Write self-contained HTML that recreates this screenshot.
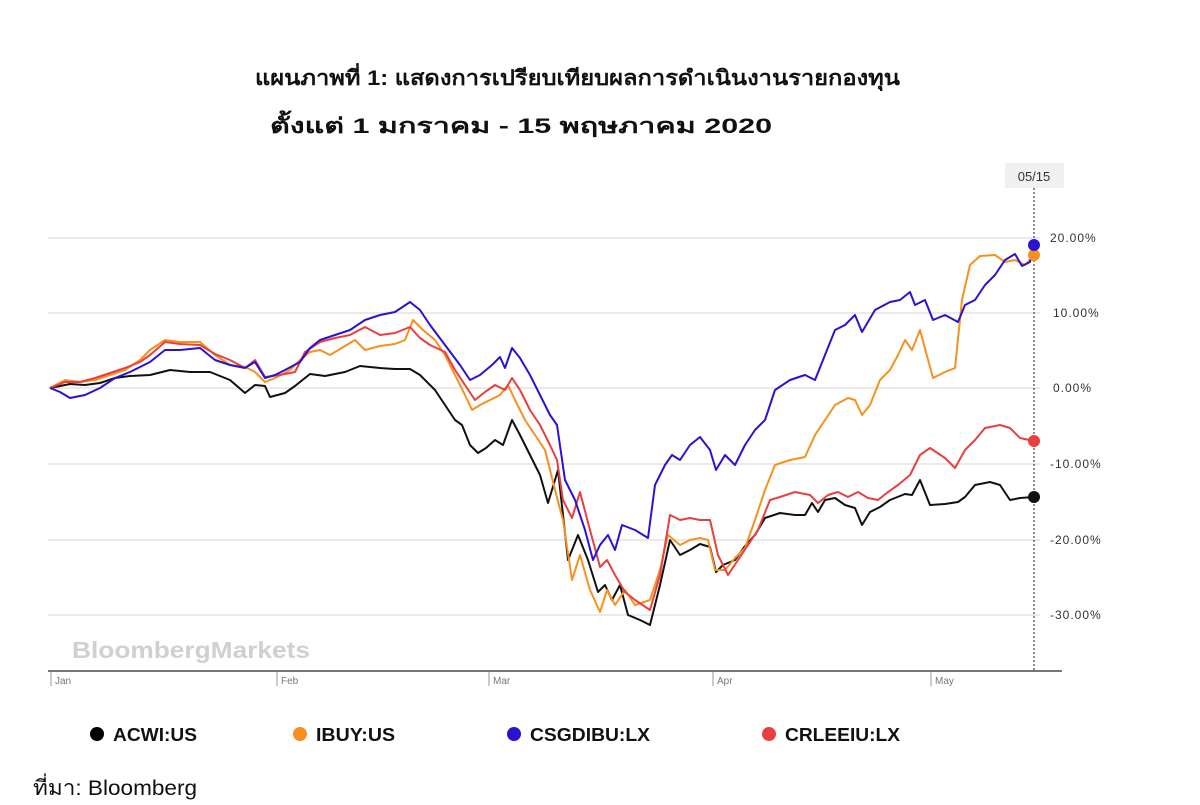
<!DOCTYPE html>
<html><head><meta charset="utf-8"><style>
body{margin:0;background:#fff;width:1200px;height:800px;overflow:hidden;font-family:"Liberation Sans",sans-serif}
</style></head><body>
<svg width="1200" height="800" xmlns="http://www.w3.org/2000/svg" font-family="Liberation Sans, DejaVu Sans, sans-serif">
<text x="255" y="85" font-size="21" font-weight="bold" fill="#111" textLength="645" lengthAdjust="spacingAndGlyphs">แผนภาพที่ 1: แสดงการเปรียบเทียบผลการดำเนินงานรายกองทุน</text>
<text x="270" y="133" font-size="21" font-weight="bold" fill="#111" textLength="502" lengthAdjust="spacingAndGlyphs">ตั้งแต่ 1 มกราคม - 15 พฤษภาคม 2020</text>
<g stroke="#e4e4e4" stroke-width="1.5">
<line x1="48" y1="238" x2="1040" y2="238"/><line x1="48" y1="313" x2="1040" y2="313"/><line x1="48" y1="388" x2="1040" y2="388"/><line x1="48" y1="464" x2="1040" y2="464"/><line x1="48" y1="540" x2="1040" y2="540"/><line x1="48" y1="615" x2="1040" y2="615"/>
</g>
<g font-size="12" fill="#333" letter-spacing="1">
<text x="1050" y="242">20.00%</text><text x="1053" y="317">10.00%</text><text x="1053" y="392">0.00%</text><text x="1050" y="468">-10.00%</text><text x="1050" y="544">-20.00%</text><text x="1050" y="619">-30.00%</text>
</g>
<text x="72" y="658" font-size="23" font-weight="bold" fill="#d0d0d0" textLength="238" lengthAdjust="spacingAndGlyphs">BloombergMarkets</text>
<line x1="48" y1="671" x2="1062" y2="671" stroke="#777" stroke-width="2"/>
<g stroke="#999" stroke-width="1"><line x1="51" y1="672" x2="51" y2="686"/><line x1="277" y1="672" x2="277" y2="686"/><line x1="489" y1="672" x2="489" y2="686"/><line x1="713" y1="672" x2="713" y2="686"/><line x1="931" y1="672" x2="931" y2="686"/></g>
<g font-size="10" fill="#777"><text x="55" y="684">Jan</text><text x="281" y="684">Feb</text><text x="493" y="684">Mar</text><text x="717" y="684">Apr</text><text x="935" y="684">May</text></g>
<line x1="1034" y1="188" x2="1034" y2="670" stroke="#666" stroke-width="1.5" stroke-dasharray="2,2"/>
<rect x="1005" y="163" width="59" height="25" fill="#f0f0f0"/>
<text x="1034" y="181" text-anchor="middle" font-size="13" fill="#333">05/15</text>
<g fill="none" stroke-width="2" stroke-linejoin="round">
<polyline stroke="#111" points="50,388 60,386 70,384 85,385 100,383 115,378 130,376 150,375 170,370 190,372 210,372 230,380 245,393 255,385 265,386 270,397 285,393 295,386 310,374 325,376 345,372 360,366 380,368 395,369 410,369 420,375 435,390 445,405 455,420 462,425 470,445 478,453 486,448 495,440 503,445 512,420 520,435 530,455 540,475 548,503 558,470 568,560 578,535 588,560 598,592 605,585 612,600 620,585 628,615 640,620 650,625 660,585 670,540 680,555 690,550 700,544 710,547 716,572 723,565 735,560 745,546 755,535 765,518 780,513 795,515 805,515 812,503 818,512 825,500 835,498 845,505 855,508 862,525 870,512 880,507 890,500 905,494 912,495 920,480 930,505 945,504 958,502 965,497 975,485 990,482 1000,485 1010,500 1020,498 1034,497"/>
<polyline stroke="#f7901e" points="50,388 65,380 80,382 95,380 110,375 125,370 140,360 150,350 165,340 180,342 200,342 215,355 230,365 245,367 255,372 265,382 275,378 290,370 300,360 310,352 320,350 330,355 345,346 355,340 365,350 380,346 395,344 405,340 413,320 423,330 435,340 445,355 455,375 465,395 472,410 480,405 490,400 500,395 508,385 515,400 525,420 535,435 545,450 555,490 563,520 572,580 580,555 590,590 600,612 607,590 615,605 625,590 635,605 650,600 660,570 668,535 680,545 690,540 700,538 708,540 715,570 725,570 735,558 745,548 755,520 765,490 775,465 790,460 805,457 815,435 825,420 835,405 848,398 855,400 862,415 870,405 880,380 890,370 898,355 905,340 912,350 920,330 933,378 945,372 955,368 962,300 970,265 980,256 995,255 1005,262 1015,260 1025,265 1034,255"/>
<polyline stroke="#e84040" points="50,388 65,382 80,382 95,378 110,373 125,368 140,362 150,355 165,342 180,344 200,345 215,354 230,360 245,368 255,360 265,377 280,375 295,372 305,352 320,342 335,338 350,335 365,327 380,335 395,333 410,327 420,338 430,345 445,352 455,370 465,385 475,400 485,392 495,385 505,390 512,378 520,390 530,410 540,425 550,445 557,460 563,500 572,518 580,492 590,530 600,567 607,560 615,575 625,592 635,600 650,610 660,575 670,515 680,520 690,518 700,520 710,520 718,555 728,575 738,560 748,545 758,530 770,500 780,497 795,492 810,495 818,503 828,495 838,492 848,497 858,492 868,498 878,500 888,492 898,485 910,475 920,455 930,448 945,458 955,468 965,450 975,440 985,428 1000,425 1010,428 1020,438 1034,441"/>
<polyline stroke="#2a13d0" points="50,388 60,392 70,398 85,395 100,388 115,378 130,372 150,362 165,350 180,350 200,348 215,360 230,365 245,368 255,362 265,378 275,375 285,370 300,362 310,348 320,340 335,335 350,330 365,320 380,315 395,312 410,302 420,310 430,325 445,345 460,365 470,380 480,375 492,365 500,357 505,368 512,348 520,358 530,375 540,395 550,415 557,425 565,480 575,500 585,530 593,560 600,545 608,535 615,550 622,525 635,530 648,538 655,485 665,465 672,455 680,460 690,445 700,437 710,450 716,470 725,455 735,465 745,445 755,430 765,420 775,390 790,380 805,375 815,380 825,355 835,330 845,325 855,315 862,332 875,310 890,302 900,300 910,292 915,305 925,300 933,320 945,315 958,322 965,305 975,300 985,285 995,275 1005,260 1015,254 1022,266 1030,262 1034,245"/>
</g>
<circle cx="1034" cy="497" r="6" fill="#111"/>
<circle cx="1034" cy="441" r="6" fill="#e84040"/>
<circle cx="1034" cy="255" r="6" fill="#f7901e"/>
<circle cx="1034" cy="245" r="6" fill="#2a13d0"/>
<g font-size="18" font-weight="bold" fill="#111">
<circle cx="97" cy="734" r="7" fill="#000"/><text x="113" y="741" textLength="84" lengthAdjust="spacingAndGlyphs">ACWI:US</text>
<circle cx="300" cy="734" r="7" fill="#f7901e"/><text x="316" y="741" textLength="79" lengthAdjust="spacingAndGlyphs">IBUY:US</text>
<circle cx="514" cy="734" r="7" fill="#2a13d0"/><text x="530" y="741" textLength="120" lengthAdjust="spacingAndGlyphs">CSGDIBU:LX</text>
<circle cx="769" cy="734" r="7" fill="#e84040"/><text x="785" y="741" textLength="115" lengthAdjust="spacingAndGlyphs">CRLEEIU:LX</text>
</g>
<text x="33" y="795" font-size="21" fill="#111" textLength="164" lengthAdjust="spacingAndGlyphs">ที่มา: Bloomberg</text>
</svg>
</body></html>
